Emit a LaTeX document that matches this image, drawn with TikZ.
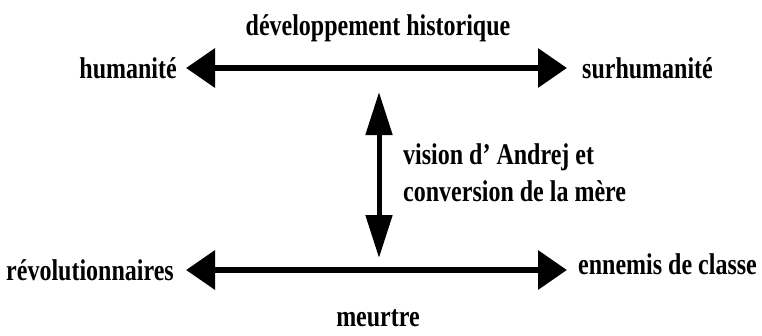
\documentclass[tikz,border=0pt]{standalone}
\usepackage{fontspec}
\setmainfont[FakeStretch=0.8]{Liberation Serif}
\usetikzlibrary{arrows.meta,positioning}

\begin{document}
\begin{tikzpicture}[
    x=1pt, y=1pt,
    term/.style={font=\fontsize{30}{36}\selectfont\bfseries, inner sep=0pt},
    label/.style={font=\fontsize{30}{37}\selectfont\bfseries, inner sep=0pt, align=left},
    harrow/.style={{Triangle[length=29pt,width=38pt]}-{Triangle[length=29pt,width=38pt]}, line width=6.5pt},
    varrow/.style={{Triangle[length=43pt,width=26pt]}-{Triangle[length=43pt,width=26pt]}, line width=5pt}
]
\useasboundingbox (0,0) rectangle (762,-335);

% terms of the two axes
\node[term, anchor=east] (hum) at (177,-68) {humanité};
\node[term, anchor=west] (surhum) at (582,-68) {surhumanité};
\node[term, anchor=east] (revol) at (174,-270) {révolutionnaires};
\node[term, anchor=west] (ennemis) at (578,-264) {ennemis de classe};

% labels
\node[term] (devel) at (378,-28) {développement historique};
\node[term] (meurtre) at (378,-318) {meurtre};
\node[label, anchor=west] (vision) at (403,-173) {vision d’ Andrej et\\conversion de la mère};

\coordinate (vtop) at (379,-92);
\coordinate (vbot) at (379,-258);

\draw[harrow, shorten <=9pt, shorten >=15pt] (hum.east) -- (surhum.west);
\draw[harrow, shorten <=12pt, shorten >=11pt] (revol.east) -- (ennemis.west |- revol.east);
\draw[varrow] (vtop) -- (vbot);
\end{tikzpicture}
\end{document}
